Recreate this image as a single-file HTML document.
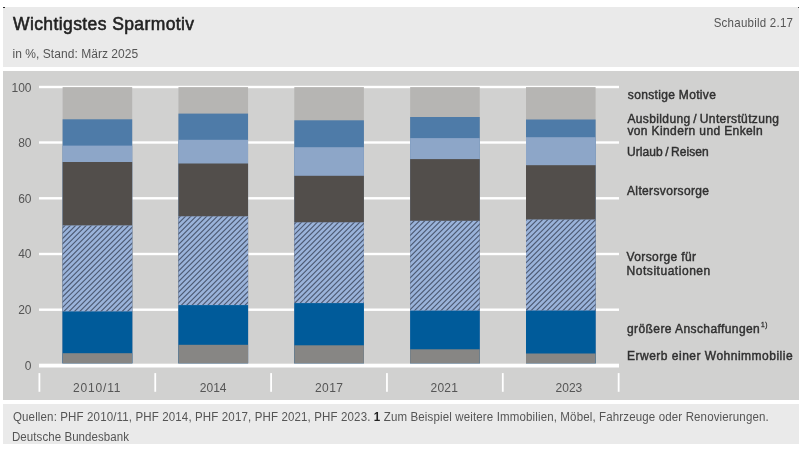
<!DOCTYPE html>
<html lang="de"><head><meta charset="utf-8"><title>Wichtigstes Sparmotiv</title>
<style>
html,body{margin:0;padding:0;background:#fff;}
body{width:801px;height:449px;overflow:hidden;position:relative;font-family:"Liberation Sans",sans-serif;}
.p{position:absolute;left:3px;width:796px;}
#hd{top:7px;height:60px;background:#eaeaea;}
#ch{top:71px;height:329px;background:#d1d1d0;}
#ft{top:404px;height:40px;background:#eaeaea;}
svg{position:absolute;left:0;top:0;will-change:transform;}
text{font-family:"Liberation Sans",sans-serif;}
.ax{font-size:12px;fill:#555;}
.lg{font-size:12.8px;fill:#303030;stroke:#303030;stroke-width:0.45px;}
.sup{font-size:7px;stroke-width:0.3px;}
.t1{font-size:17.5px;fill:#222;stroke:#222;stroke-width:0.55px;}
.t2{font-size:12px;fill:#555;}
.t3{font-size:13.4px;fill:#555;}
.ft{font-size:12px;fill:#555;}
.b{font-weight:bold;fill:#222;}
.dot{position:absolute;width:1.5px;height:1.5px;background:#111;border-radius:0.75px;}
</style></head>
<body>
<div class="p" id="hd"></div>
<div class="p" id="ch"></div>
<div class="p" id="ft"></div>
<div class="dot" style="left:3px;top:6.8px"></div>
<div class="dot" style="left:797.6px;top:6.8px"></div>
<svg width="801" height="449" viewBox="0 0 801 449">
<defs>
</defs>
<rect x="39" y="85.80" width="580" height="2.4" fill="#fff"/>
<rect x="39" y="141.30" width="580" height="2.4" fill="#fff"/>
<rect x="39" y="197.10" width="580" height="2.4" fill="#fff"/>
<rect x="39" y="252.80" width="580" height="2.4" fill="#fff"/>
<rect x="39" y="308.50" width="580" height="2.4" fill="#fff"/>
<rect x="62.60" y="87.10" width="69.6" height="276.40" fill="#b6b5b3"/>
<rect x="62.60" y="119.30" width="69.6" height="244.20" fill="#4e7ba8"/>
<rect x="62.60" y="145.60" width="69.6" height="217.90" fill="#8da6c8"/>
<rect x="62.60" y="162.00" width="69.6" height="201.50" fill="#524e4b"/>
<rect x="62.60" y="225.40" width="69.6" height="138.10" fill="#9ab3da"/>
<rect x="62.60" y="311.40" width="69.6" height="52.10" fill="#005b9a"/>
<rect x="62.60" y="353.20" width="69.6" height="10.30" fill="#878684"/>
<rect x="178.45" y="87.10" width="69.6" height="276.40" fill="#b6b5b3"/>
<rect x="178.45" y="113.60" width="69.6" height="249.90" fill="#4e7ba8"/>
<rect x="178.45" y="139.80" width="69.6" height="223.70" fill="#8da6c8"/>
<rect x="178.45" y="163.50" width="69.6" height="200.00" fill="#524e4b"/>
<rect x="178.45" y="216.30" width="69.6" height="147.20" fill="#9ab3da"/>
<rect x="178.45" y="305.10" width="69.6" height="58.40" fill="#005b9a"/>
<rect x="178.45" y="344.80" width="69.6" height="18.70" fill="#878684"/>
<rect x="294.30" y="87.10" width="69.6" height="276.40" fill="#b6b5b3"/>
<rect x="294.30" y="120.30" width="69.6" height="243.20" fill="#4e7ba8"/>
<rect x="294.30" y="147.20" width="69.6" height="216.30" fill="#8da6c8"/>
<rect x="294.30" y="175.80" width="69.6" height="187.70" fill="#524e4b"/>
<rect x="294.30" y="222.30" width="69.6" height="141.20" fill="#9ab3da"/>
<rect x="294.30" y="303.10" width="69.6" height="60.40" fill="#005b9a"/>
<rect x="294.30" y="345.30" width="69.6" height="18.20" fill="#878684"/>
<rect x="410.15" y="87.10" width="69.6" height="276.40" fill="#b6b5b3"/>
<rect x="410.15" y="117.00" width="69.6" height="246.50" fill="#4e7ba8"/>
<rect x="410.15" y="138.10" width="69.6" height="225.40" fill="#8da6c8"/>
<rect x="410.15" y="159.10" width="69.6" height="204.40" fill="#524e4b"/>
<rect x="410.15" y="220.80" width="69.6" height="142.70" fill="#9ab3da"/>
<rect x="410.15" y="310.60" width="69.6" height="52.90" fill="#005b9a"/>
<rect x="410.15" y="349.30" width="69.6" height="14.20" fill="#878684"/>
<rect x="526.00" y="87.10" width="69.6" height="276.40" fill="#b6b5b3"/>
<rect x="526.00" y="119.50" width="69.6" height="244.00" fill="#4e7ba8"/>
<rect x="526.00" y="137.20" width="69.6" height="226.30" fill="#8da6c8"/>
<rect x="526.00" y="165.20" width="69.6" height="198.30" fill="#524e4b"/>
<rect x="526.00" y="219.50" width="69.6" height="144.00" fill="#9ab3da"/>
<rect x="526.00" y="310.50" width="69.6" height="53.00" fill="#005b9a"/>
<rect x="526.00" y="353.50" width="69.6" height="10.00" fill="#878684"/>
<clipPath id="hc"><rect x="62.60" y="225.40" width="69.6" height="86.00"/><rect x="178.45" y="216.30" width="69.6" height="88.80"/><rect x="294.30" y="222.30" width="69.6" height="80.80"/><rect x="410.15" y="220.80" width="69.6" height="89.80"/><rect x="526.00" y="219.50" width="69.6" height="91.00"/></clipPath>
<path clip-path="url(#hc)" d="M64.00 200L-56.00 320M69.30 200L-50.70 320M74.60 200L-45.40 320M79.90 200L-40.10 320M85.20 200L-34.80 320M90.50 200L-29.50 320M95.80 200L-24.20 320M101.10 200L-18.90 320M106.40 200L-13.60 320M111.70 200L-8.30 320M117.00 200L-3.00 320M122.30 200L2.30 320M127.60 200L7.60 320M132.90 200L12.90 320M138.20 200L18.20 320M143.50 200L23.50 320M148.80 200L28.80 320M154.10 200L34.10 320M159.40 200L39.40 320M164.70 200L44.70 320M170.00 200L50.00 320M175.30 200L55.30 320M180.60 200L60.60 320M185.90 200L65.90 320M191.20 200L71.20 320M196.50 200L76.50 320M201.80 200L81.80 320M207.10 200L87.10 320M212.40 200L92.40 320M217.70 200L97.70 320M223.00 200L103.00 320M228.30 200L108.30 320M233.60 200L113.60 320M238.90 200L118.90 320M244.20 200L124.20 320M249.50 200L129.50 320M254.80 200L134.80 320M260.10 200L140.10 320M265.40 200L145.40 320M270.70 200L150.70 320M276.00 200L156.00 320M281.30 200L161.30 320M286.60 200L166.60 320M291.90 200L171.90 320M297.20 200L177.20 320M302.50 200L182.50 320M307.80 200L187.80 320M313.10 200L193.10 320M318.40 200L198.40 320M323.70 200L203.70 320M329.00 200L209.00 320M334.30 200L214.30 320M339.60 200L219.60 320M344.90 200L224.90 320M350.20 200L230.20 320M355.50 200L235.50 320M360.80 200L240.80 320M366.10 200L246.10 320M371.40 200L251.40 320M376.70 200L256.70 320M382.00 200L262.00 320M387.30 200L267.30 320M392.60 200L272.60 320M397.90 200L277.90 320M403.20 200L283.20 320M408.50 200L288.50 320M413.80 200L293.80 320M419.10 200L299.10 320M424.40 200L304.40 320M429.70 200L309.70 320M435.00 200L315.00 320M440.30 200L320.30 320M445.60 200L325.60 320M450.90 200L330.90 320M456.20 200L336.20 320M461.50 200L341.50 320M466.80 200L346.80 320M472.10 200L352.10 320M477.40 200L357.40 320M482.70 200L362.70 320M488.00 200L368.00 320M493.30 200L373.30 320M498.60 200L378.60 320M503.90 200L383.90 320M509.20 200L389.20 320M514.50 200L394.50 320M519.80 200L399.80 320M525.10 200L405.10 320M530.40 200L410.40 320M535.70 200L415.70 320M541.00 200L421.00 320M546.30 200L426.30 320M551.60 200L431.60 320M556.90 200L436.90 320M562.20 200L442.20 320M567.50 200L447.50 320M572.80 200L452.80 320M578.10 200L458.10 320M583.40 200L463.40 320M588.70 200L468.70 320M594.00 200L474.00 320M599.30 200L479.30 320M604.60 200L484.60 320M609.90 200L489.90 320M615.20 200L495.20 320M620.50 200L500.50 320M625.80 200L505.80 320M631.10 200L511.10 320M636.40 200L516.40 320M641.70 200L521.70 320M647.00 200L527.00 320M652.30 200L532.30 320M657.60 200L537.60 320M662.90 200L542.90 320M668.20 200L548.20 320M673.50 200L553.50 320M678.80 200L558.80 320M684.10 200L564.10 320M689.40 200L569.40 320M694.70 200L574.70 320M700.00 200L580.00 320M705.30 200L585.30 320M710.60 200L590.60 320M715.90 200L595.90 320M721.20 200L601.20 320" stroke="#4e5b74" stroke-width="1.15" fill="none"/>
<rect x="39" y="363.7" width="580" height="3.8" fill="#fff"/>
<rect x="38.50" y="373.1" width="1.8" height="18.7" fill="#fff"/>
<rect x="154.35" y="373.1" width="1.8" height="18.7" fill="#fff"/>
<rect x="270.20" y="373.1" width="1.8" height="18.7" fill="#fff"/>
<rect x="386.05" y="373.1" width="1.8" height="18.7" fill="#fff"/>
<rect x="501.90" y="373.1" width="1.8" height="18.7" fill="#fff"/>
<rect x="617.75" y="373.1" width="1.8" height="18.7" fill="#fff"/>
<text id="title" class="t1" x="13.00" y="29.7" textLength="181.11" lengthAdjust="spacing">Wichtigstes Sparmotiv</text>
<text id="sub" class="t2" x="12.50" y="58.4" textLength="125.73" lengthAdjust="spacing">in %, Stand: März 2025</text>
<text id="sb" class="t3" transform="matrix(0.86,0,0,1,793.00,0)" x="0" y="27.0" text-anchor="end" textLength="92.22" lengthAdjust="spacing">Schaubild 2.17</text>
<text id="l1" class="lg" transform="matrix(0.94,0,0,1,627.80,0)" x="0" y="99.4" textLength="93.72" lengthAdjust="spacing">sonstige Motive</text>
<text id="l2" class="lg" transform="matrix(0.94,0,0,1,627.40,0)" x="0" y="123" textLength="161.31" lengthAdjust="spacing">Ausbildung / Unterstützung</text>
<text id="l3" class="lg" transform="matrix(0.94,0,0,1,627.40,0)" x="0" y="135.2" textLength="144.06" lengthAdjust="spacing">von Kindern und Enkeln</text>
<text id="l4" class="lg" transform="matrix(0.94,0,0,1,627.00,0)" x="0" y="155.8" textLength="86.99" lengthAdjust="spacing">Urlaub / Reisen</text>
<text id="l5" class="lg" transform="matrix(0.94,0,0,1,627.00,0)" x="0" y="194.8" textLength="87.31" lengthAdjust="spacing">Altersvorsorge</text>
<text id="l6" class="lg" transform="matrix(0.94,0,0,1,626.60,0)" x="0" y="260.6" textLength="73.91" lengthAdjust="spacing">Vorsorge für</text>
<text id="l7" class="lg" transform="matrix(0.94,0,0,1,626.60,0)" x="0" y="274.6" textLength="88.98" lengthAdjust="spacing">Notsituationen</text>
<text id="l8" class="lg" transform="matrix(0.94,0,0,1,627.00,0)" x="0" y="333.2" textLength="149.32" lengthAdjust="spacing">größere Anschaffungen<tspan class="sup" dx="1" dy="-6">1)</tspan></text>
<text id="l9" class="lg" transform="matrix(0.94,0,0,1,627.00,0)" x="0" y="360.1" textLength="176.16" lengthAdjust="spacing">Erwerb einer Wohnimmobilie</text>
<text id="f1" class="ft" transform="matrix(0.96,0,0,1,13.00,0)" x="0" y="421.5" textLength="787.21" lengthAdjust="spacing">Quellen: PHF 2010/11, PHF 2014, PHF 2017, PHF 2021, PHF 2023. <tspan class="b">1</tspan> Zum Beispiel weitere Immobilien, Möbel, Fahrzeuge oder Renovierungen.</text>
<text id="f2" class="ft" transform="matrix(0.96,0,0,1,12.00,0)" x="0" y="441.1" textLength="121.87" lengthAdjust="spacing">Deutsche Bundesbank</text>
<text id="x1" class="ax" x="96.75" y="391.6" text-anchor="middle" textLength="47.50" lengthAdjust="spacing">2010/11</text>
<text id="x2" class="ax" x="213.20" y="391.6" text-anchor="middle" textLength="26.70" lengthAdjust="spacing">2014</text>
<text id="x3" class="ax" x="329.00" y="391.6" text-anchor="middle" textLength="28.10" lengthAdjust="spacing">2017</text>
<text id="x4" class="ax" x="444.20" y="391.6" text-anchor="middle" textLength="27.50" lengthAdjust="spacing">2021</text>
<text id="x5" class="ax" x="568.90" y="391.6" text-anchor="middle" textLength="26.70" lengthAdjust="spacing">2023</text>
<text id="y100" class="ax" x="31.50" y="91.5" text-anchor="end">100</text>
<text id="y80" class="ax" x="31.50" y="147.2" text-anchor="end">80</text>
<text id="y60" class="ax" x="31.50" y="202.5" text-anchor="end">60</text>
<text id="y40" class="ax" x="31.50" y="258.0" text-anchor="end">40</text>
<text id="y20" class="ax" x="31.50" y="313.5" text-anchor="end">20</text>
<text id="y0" class="ax" x="31.50" y="369.5" text-anchor="end">0</text>
</svg>
</body></html>
